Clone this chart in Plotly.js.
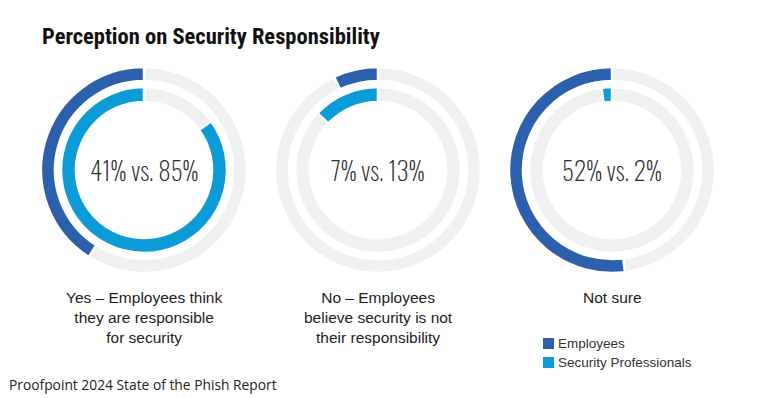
<!DOCTYPE html>
<html>
<head>
<meta charset="utf-8">
<script src="https://cdn.plot.ly/plotly-3.0.1.min.js"></script>
<style>html,body{margin:0;padding:0;background:#fff;}#chart{width:757px;height:398px;}</style>
</head>
<body>
<div id="chart"></div>
<script>
// ---- data ----
const categories = [
  "Yes – Employees think<br>they are responsible<br>for security",
  "No – Employees<br>believe security is not<br>their responsibility",
  "Not sure"
];
const employees = [41, 7, 52];
const securityProfessionals = [85, 13, 2];
const seriesNames = ["Employees", "Security Professionals"];
const chartTitle = "Perception on Security Responsibility";
const sourceText = "Proofpoint 2024 State of the Phish Report";

// ---- styling / layout ----
const W = 757, H = 398;
const darkBlue = "#2c5fac", lightBlue = "#0b9cd8", gray = "#eff0f2";
const centersX = [144, 378, 612];
const centerY = 170;
const outerR = 103, outerHole = 0.864;
const innerR = 83, innerHole = 0.82;
const labelFont = "Liberation Sans, Arial, sans-serif";

function domainFor(cx, r) {
  const yb = H - centerY;
  return { x: [(cx - r) / W, (cx + r) / W], y: [(yb - r) / H, (yb + r) / H] };
}

const traces = [];
const annotations = [];
categories.forEach((cat, i) => {
  const e = employees[i], s = securityProfessionals[i];
  // remainder first, share last: the share then ends at 12 o'clock on the left side
  traces.push({
    type: "pie", values: [100 - e, e], labels: ["Other", seriesNames[0]],
    marker: { colors: [gray, darkBlue], line: { color: "#fff", width: 2.5 } },
    hole: outerHole, sort: false, direction: "clockwise", rotation: 0,
    textinfo: "none", showlegend: false, domain: domainFor(centersX[i], outerR)
  });
  traces.push({
    type: "pie", values: [100 - s, s], labels: ["Other", seriesNames[1]],
    marker: { colors: [gray, lightBlue], line: { color: "#fff", width: 2.5 } },
    hole: innerHole, sort: false, direction: "clockwise", rotation: 0,
    textinfo: "none", showlegend: false, domain: domainFor(centersX[i], innerR)
  });
  annotations.push({
    xref: "paper", yref: "paper", x: centersX[i] / W, y: (H - centerY) / H,
    text: e + "% vs. " + s + "%", showarrow: false,
    font: { family: "Oswald, Roboto Condensed, sans-serif", size: 25, weight: 200, color: "#2a2a2a" },
    xanchor: "center", yanchor: "middle"
  });
  annotations.push({
    xref: "paper", yref: "paper", x: centersX[i] / W, y: (H - 287) / H,
    text: cat, showarrow: false, align: "center",
    font: { family: labelFont, size: 15.5, color: "#222" },
    xanchor: "center", yanchor: "top"
  });
});

// legend (squares + text)
const legendColors = [darkBlue, lightBlue];
const legendY = [343.5, 362.5];
const shapes = [];
seriesNames.forEach((n, i) => {
  shapes.push({
    type: "rect", xref: "paper", yref: "paper",
    x0: 543 / W, x1: 554 / W, y0: (H - legendY[i] - 5.5) / H, y1: (H - legendY[i] + 5.5) / H,
    fillcolor: legendColors[i], line: { width: 0 }
  });
  annotations.push({
    xref: "paper", yref: "paper", x: 556 / W, y: (H - legendY[i]) / H,
    text: n, showarrow: false, xanchor: "left", yanchor: "middle",
    font: { family: labelFont, size: 13.5, color: "#333" }
  });
});

annotations.push({
  xref: "paper", yref: "paper", x: 7 / W, y: (H - 384) / H,
  text: sourceText, showarrow: false, xanchor: "left", yanchor: "middle",
  font: { family: "Open Sans, sans-serif", size: 13.8, color: "#222" }
});

const layout = {
  width: W, height: H,
  margin: { l: 0, r: 0, t: 0, b: 0 },
  paper_bgcolor: "#fff",
  title: {
    text: chartTitle, x: 42 / W, xanchor: "left", y: 1 - 36 / H, yanchor: "middle",
    font: { family: "Roboto Condensed, Liberation Sans, sans-serif", size: 22.5, weight: 700, color: "#111" }
  },
  showlegend: false,
  annotations: annotations,
  shapes: shapes
};

Plotly.newPlot("chart", traces, layout, { displayModeBar: false, staticPlot: true });
</script>
</body>
</html>
